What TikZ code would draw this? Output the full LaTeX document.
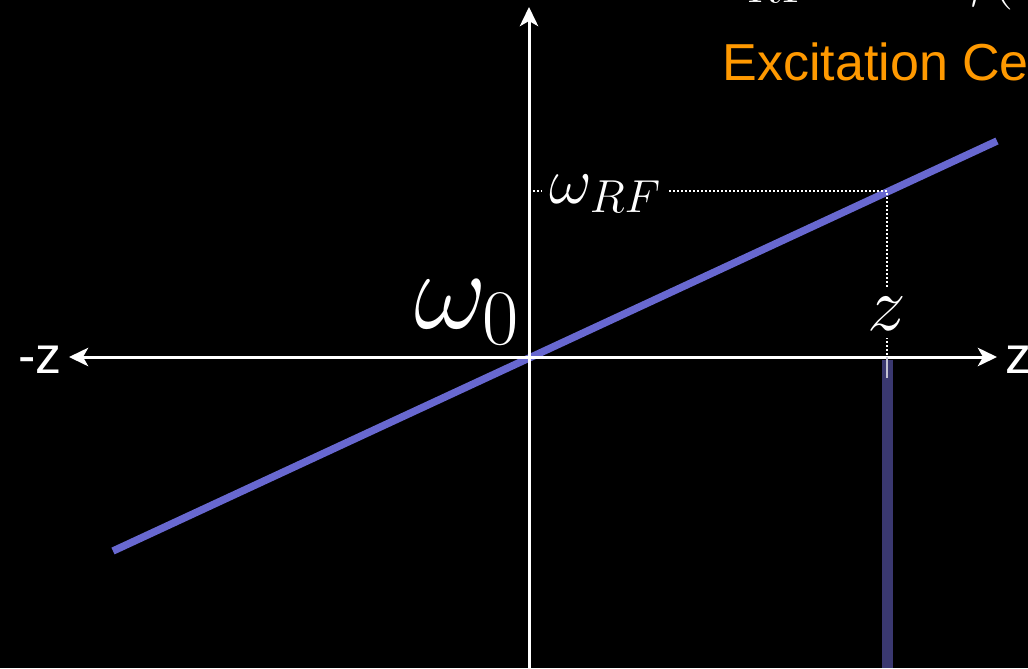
\RequirePackage{fix-cm}
\documentclass[tikz,border=0pt]{standalone}
\usepackage{fontspec}
\setsansfont{Liberation Sans}
\usetikzlibrary{arrows.meta}

\definecolor{fieldblue}{RGB}{104,104,208}
\definecolor{slicedark}{RGB}{58,56,112}
\definecolor{excorange}{RGB}{255,153,0}

\begin{document}
\begin{tikzpicture}[line width=0.75mm, >={Stealth[length=4.8mm,width=4.6mm,inset=1.3mm]}, x=0.25mm, y=-0.25mm,
    guide/.style={line width=0.4mm, white, dash pattern=on 0.5mm off 0.5mm},
    lbl/.style={text=white, fill=black, inner sep=0pt}]
  % one unit = one pixel of the slide, y counted downward from the top edge
  \fill[black] (0,0) rectangle (1028,668);
  \useasboundingbox (0,0) rectangle (1028,668);
  \clip (0,0) rectangle (1028,668);

  \coordinate (O) at (529,357);
  \coordinate (P) at (887,191);
  \coordinate (xl) at (69,357);
  \coordinate (xr) at (997,357);
  \coordinate (yt) at (529,7);
  \coordinate (yb) at (529,668);
  \coordinate (gl) at (113,551);
  \coordinate (gr) at (997,141);
  \coordinate (zfoot) at (887,378);

  % excited slice, runs off the bottom of the slide
  \draw[slicedark, line width=2.75mm] (887.5,360) -- (887.5,668);
  % gradient line, under the axes
  \draw[fieldblue, line width=1.85mm] (gl) -- (gr);

  \draw[white, <->] (xl) -- (xr);
  \draw[white, ->] (yb) -- (yt);

  % read-off guides; the labels below sit on top of them
  \draw[guide] (O |- P) -- (P) -- (P |- O);
  \draw[white!70!slicedark, line width=0.4mm] (P |- O) -- (zfoot);

  \node[lbl, anchor=base west, inner xsep=2mm, font=\fontsize{47}{56}\selectfont] (wrf) at (540,203) {$\omega_{RF}$};
  \node[lbl, anchor=base, inner sep=2mm, font=\fontsize{55}{66}\selectfont] (zlab) at (887,330) {$z$};
  \node[anchor=base east, inner sep=0pt, text=white, font=\fontsize{80}{96}\selectfont] (wzero) at (521,328) {$\omega_0$};

  \node[anchor=base east, inner sep=0pt, text=white, font=\sffamily\fontsize{37}{44}\selectfont] (zneg) at (63,373) {-z};
  \node[anchor=base west, inner sep=0pt, text=white, font=\sffamily\fontsize{37}{44}\selectfont] (zpos) at (1004,373) {z};

  % title lines, cut by the top and right edges
  \node[anchor=base west, inner sep=0pt, text=white, font=\fontsize{47}{56}\selectfont] (eqn) at (705,-7) {$\omega_{RF}=-\gamma(B_0+G_z z)$};
  \node[anchor=base west, inner sep=0pt, text=excorange, font=\sffamily\fontsize{37}{44}\selectfont] (exc) at (721,80) {Excitation Center};
\end{tikzpicture}
\end{document}
